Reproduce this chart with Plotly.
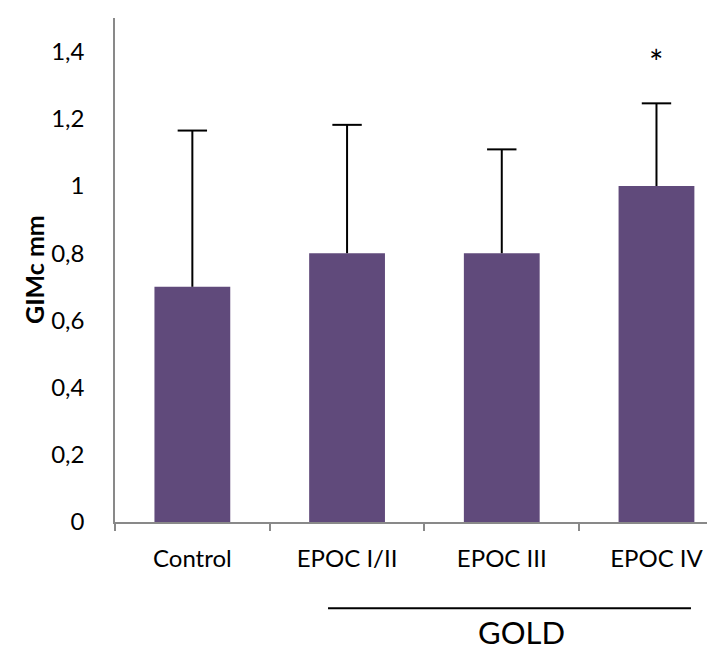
import plotly.graph_objects as go

categories = ["Control", "EPOC I/II", "EPOC III", "EPOC IV"]
means = [0.70, 0.80, 0.80, 1.00]
sd_plus = [0.465, 0.382, 0.309, 0.246]
y_ticks = [0, 0.2, 0.4, 0.6, 0.8, 1.0, 1.2, 1.4]
boundaries = [-0.5, 0.5, 1.5, 2.5]
star_label = "*"
group_label = "GOLD"
y_title = "GIMc mm"

FONT = "Lato"
BAR = "#604A7B"
AXIS = "#898989"

xpos = list(range(len(categories)))
tops = [m + s for m, s in zip(means, sd_plus)]

fig = go.Figure()
fig.add_trace(go.Bar(
    x=xpos, y=means, marker=dict(color=BAR, line=dict(width=0)),
    error_y=dict(type="data", symmetric=False, array=sd_plus,
                 arrayminus=[0] * len(means), width=0, thickness=2, color="black"),
    hoverinfo="skip", showlegend=False,
))
fig.add_trace(go.Scatter(
    x=xpos, y=tops, mode="markers",
    marker=dict(symbol="line-ew", size=21, color="black", line=dict(width=2, color="black")),
    hoverinfo="skip", showlegend=False,
))

fig.add_annotation(x=3, y=1.386, xref="x", yref="y", text=star_label, showarrow=False,
                   font=dict(family=FONT, size=34, color="black"), yanchor="middle", yshift=-5)
fig.add_annotation(x=0, y=0.5, xref="paper", yref="paper", text="<b>%s</b>" % y_title,
                   showarrow=False, textangle=-90, xanchor="center", yanchor="middle",
                   xshift=-81, font=dict(family=FONT, size=25, color="black"))
fig.add_shape(type="line", xref="x", yref="paper", x0=0.877, x1=3.223, y0=-0.171, y1=-0.171,
              line=dict(color="black", width=2))
fig.add_annotation(x=2.13, y=-0.258, xref="x", yref="paper", text=group_label, showarrow=False,
                   xanchor="center", yanchor="bottom", borderpad=0,
                   font=dict(family=FONT, size=31, color="black"))

fig.update_layout(
    width=715, height=651, separators=",.",
    margin=dict(l=107, r=0, t=10, b=137),
    plot_bgcolor="white", paper_bgcolor="white",
    bargap=0.51,
    font=dict(family=FONT, size=24, color="black"),
)
fig.update_xaxes(
    range=[-0.5, 3.43], tickmode="array", tickvals=xpos, ticktext=categories,
    ticks="", showline=True, linecolor=AXIS, linewidth=1.5, showgrid=False, zeroline=False,
    ticklabelstandoff=14, tickfont=dict(family=FONT, size=24, color="black"),
    minor=dict(tickmode="array", tickvals=boundaries, ticks="outside", ticklen=7,
               tickcolor=AXIS, tickwidth=1.5, showgrid=False),
)
fig.update_yaxes(
    range=[0, 1.5], tickmode="array", tickvals=y_ticks, ticks="", showline=True,
    linecolor=AXIS, linewidth=1.5, showgrid=False, zeroline=False,
    ticklabelstandoff=24, tickfont=dict(family=FONT, size=24, color="black"),
)

fig.write_html("out.html")
